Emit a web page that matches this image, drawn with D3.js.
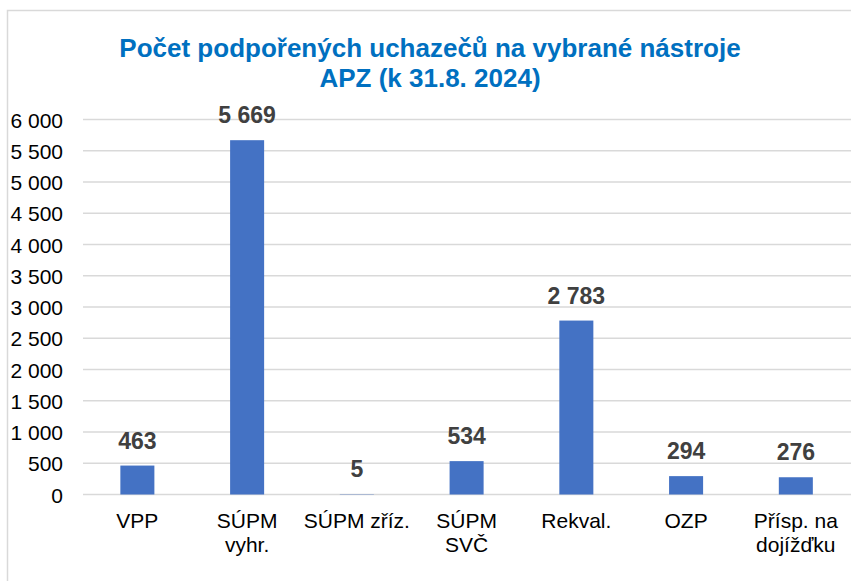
<!DOCTYPE html>
<html><head><meta charset="utf-8">
<script src="https://cdn.jsdelivr.net/npm/d3@7"></script>
<style>body{margin:0;background:#fff;overflow:hidden}svg{display:block}</style>
</head><body>
<script>
const categories = [["VPP"],["SÚPM","vyhr."],["SÚPM zříz."],["SÚPM","SVČ"],["Rekval."],["OZP"],["Přísp. na","dojížďku"]];
const values = [463, 5669, 5, 534, 2783, 294, 276];
const yTicks = [0,500,1000,1500,2000,2500,3000,3500,4000,4500,5000,5500,6000];
const titleLines = ["Počet podpořených uchazečů na vybrané nástroje","APZ (k 31.8. 2024)"];

const W = 851, H = 581;
const svg = d3.select("body").append("svg").attr("width", W).attr("height", H);
const font = "'Liberation Sans', Arial, sans-serif";
const fmt = v => d3.format(",")(v).replace(/,/g, " ");

svg.append("rect").attr("x",7.5).attr("y",10.5).attr("width",900).attr("height",700)
  .attr("fill","#fff").attr("stroke","#d9d9d9").attr("stroke-width",1.5);

const x = d3.scaleBand().domain(d3.range(categories.length)).range([82.5, 850.7]).paddingInner(0.69).paddingOuter(0.345);
const y = d3.scaleLinear().domain([0,6000]).range([494.5, 119.5]);

// gridlines
svg.append("g").selectAll("line").data(yTicks).join("line")
  .attr("x1",83).attr("x2",851).attr("y1",d=>y(d)).attr("y2",d=>y(d))
  .attr("stroke","#d9d9d9").attr("stroke-width",1.5);

// y axis via d3 axis
const yAxis = svg.append("g").attr("transform","translate(63,0)")
  .call(d3.axisLeft(y).tickValues(yTicks).tickFormat(fmt).tickSize(0).tickPadding(0));
yAxis.select(".domain").remove();
yAxis.selectAll("text").attr("font-family",font).attr("font-size",21).attr("fill","#000").attr("dy","0.36em");

// bars
svg.append("g").selectAll("rect").data(values).join("rect")
  .attr("x",(d,i)=>x(i)).attr("width",x.bandwidth())
  .attr("y",d=>y(d)).attr("height",d=>y(0)-y(d)).attr("fill","#4472C4");

// data labels
svg.append("g").selectAll("text").data(values).join("text")
  .attr("x",(d,i)=>x(i)+x.bandwidth()/2).attr("y",d=>y(d)-17)
  .attr("text-anchor","middle").attr("font-family",font).attr("font-weight","bold")
  .attr("font-size",23).attr("fill","#404040").text(fmt);

// category labels
const cat = svg.append("g").selectAll("text").data(categories).join("text")
  .attr("x",(d,i)=>x(i)+x.bandwidth()/2).attr("y",527.5)
  .attr("text-anchor","middle").attr("font-family",font).attr("font-size",21).attr("fill","#000");
cat.selectAll("tspan").data(d=>d).join("tspan")
  .attr("x",function(){return this.parentNode.getAttribute("x");})
  .attr("dy",(d,i)=>i===0?0:24.3).text(d=>d);

// title
svg.append("g").selectAll("text").data(titleLines).join("text")
  .attr("x",430).attr("y",(d,i)=>56.5+i*30.3)
  .attr("text-anchor","middle").attr("font-family",font).attr("font-weight","bold")
  .attr("font-size",26).attr("fill","#0070C0").text(d=>d);
</script>
</body></html>
